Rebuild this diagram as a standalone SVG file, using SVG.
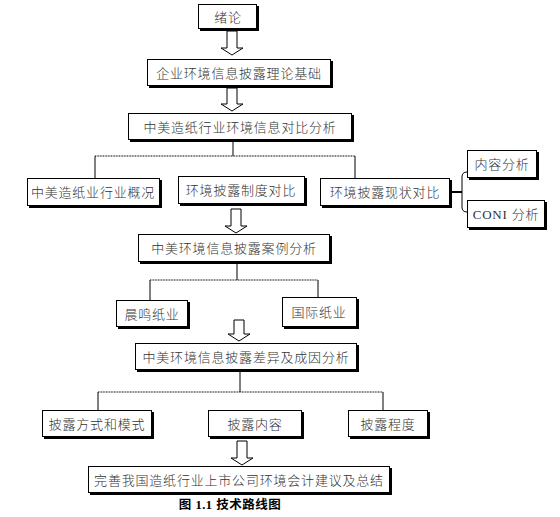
<svg xmlns="http://www.w3.org/2000/svg" width="560" height="517" viewBox="0 0 560 517">
<defs>
<style>
.sh{fill:#000}
.bx{fill:#fff;stroke:#000;stroke-width:1}
.t{font-family:"Liberation Serif","Noto Sans CJK SC",serif;font-size:13px;font-weight:300;fill:#333;text-anchor:middle;dominant-baseline:central;letter-spacing:0.8px}
.ln{fill:none;stroke:#000;stroke-width:1}
.dt{fill:none;stroke:#000;stroke-width:1;stroke-dasharray:1 0.6}
.ar{fill:#fff;stroke:#000;stroke-width:1}
.cap{font-family:"Liberation Serif","Noto Sans CJK SC",serif;font-size:12.5px;font-weight:bold;fill:#000;text-anchor:middle;letter-spacing:0.5px}
</style>
</defs>
<rect width="560" height="517" fill="#fff"/>
<g id="connectors">
<path class="ln" d="M233 141V156"/>
<path class="dt" d="M95 156H355"/>
<path class="ln" d="M95 156V178M355 156V178"/>
<path class="ln" d="M450 192H462" style="stroke-width:2"/>
<path class="ln" d="M467 172Q462 172 462 177V207Q462 212 467 212"/>
<path class="ln" d="M237 262V280"/>
<path class="dt" d="M150 280H318"/>
<path class="ln" d="M150 280V300M318 280V297"/>
<path class="ln" d="M240 370V392"/>
<path class="dt" d="M98 392H383"/>
<path class="ln" d="M98 392V410M383 392V410"/>
<polygon class="ar" points="227,31 237,31 237,48 243,48 232,55 221,48 227,48"/>
<polygon class="ar" points="227,88 237,88 237,104 243,104 232,111 221,104 227,104"/>
<polygon class="ar" points="231,209 241,209 241,226 247,226 236,233 225,226 231,226"/>
<polygon class="ar" points="234,320 244,320 244,334 250,334 239,341 228,334 234,334"/>
<polygon class="ar" points="237,441 247,441 247,458 253,458 242,465 231,458 237,458"/>
</g>
<g id="n1"><rect class="sh" x="200" y="6" width="59" height="25"/><rect class="bx" x="198.5" y="4.5" width="58" height="24"/><text class="t" x="228" y="17">绪论</text></g>
<g id="n2"><rect class="sh" x="149" y="61" width="184" height="27"/><rect class="bx" x="147.5" y="59.5" width="183" height="26"/><text class="t" x="239" y="73">企业环境信息披露理论基础</text></g>
<g id="n3"><rect class="sh" x="130" y="115" width="224" height="27"/><rect class="bx" x="128.5" y="113.5" width="223" height="26"/><text class="t" x="240" y="127">中美造纸行业环境信息对比分析</text></g>
<g id="n4"><rect class="sh" x="29" y="180" width="133" height="28"/><rect class="bx" x="27.5" y="178.5" width="132" height="27"/><text class="t" x="93" y="192">中美造纸业行业概况</text></g>
<g id="n5"><rect class="sh" x="180" y="178" width="127" height="28"/><rect class="bx" x="178.5" y="176.5" width="126" height="27"/><text class="t" x="241" y="190">环境披露制度对比</text></g>
<g id="n6"><rect class="sh" x="322" y="180" width="130" height="28"/><rect class="bx" x="320.5" y="178.5" width="129" height="27"/><text class="t" x="385" y="192">环境披露现状对比</text></g>
<g id="n7"><rect class="sh" x="469" y="152" width="70" height="28"/><rect class="bx" x="467.5" y="150.5" width="69" height="27"/><text class="t" x="502" y="164">内容分析</text></g>
<g id="n8"><rect class="sh" x="469" y="202" width="78" height="28"/><rect class="bx" x="467.5" y="200.5" width="77" height="27"/><text class="t" x="506" y="214">CONI 分析</text></g>
<g id="n9"><rect class="sh" x="140" y="236" width="192" height="28"/><rect class="bx" x="138.5" y="234.5" width="191" height="27"/><text class="t" x="234" y="248">中美环境信息披露案例分析</text></g>
<g id="n10"><rect class="sh" x="118" y="302" width="72" height="27"/><rect class="bx" x="116.5" y="300.5" width="71" height="26"/><text class="t" x="152" y="314">晨鸣纸业</text></g>
<g id="n11"><rect class="sh" x="284" y="299" width="75" height="30"/><rect class="bx" x="282.5" y="297.5" width="74" height="29"/><text class="t" x="319" y="312">国际纸业</text></g>
<g id="n12"><rect class="sh" x="137" y="345" width="222" height="27"/><rect class="bx" x="135.5" y="343.5" width="221" height="26"/><text class="t" x="246" y="357">中美环境信息披露差异及成因分析</text></g>
<g id="n13"><rect class="sh" x="44" y="412" width="110" height="27"/><rect class="bx" x="42.5" y="410.5" width="109" height="26"/><text class="t" x="97" y="424">披露方式和模式</text></g>
<g id="n14"><rect class="sh" x="210" y="412" width="94" height="27"/><rect class="bx" x="208.5" y="410.5" width="93" height="26"/><text class="t" x="255" y="424">披露内容</text></g>
<g id="n15"><rect class="sh" x="350" y="412" width="80" height="27"/><rect class="bx" x="348.5" y="410.5" width="79" height="26"/><text class="t" x="388" y="424">披露程度</text></g>
<g id="n16"><rect class="sh" x="90" y="468" width="302" height="27"/><rect class="bx" x="88.5" y="466.5" width="301" height="26"/><text class="t" x="239" y="480">完善我国造纸行业上市公司环境会计建议及总结</text></g>
<text class="cap" x="230" y="509">图 1.1  技术路线图</text>
</svg>
